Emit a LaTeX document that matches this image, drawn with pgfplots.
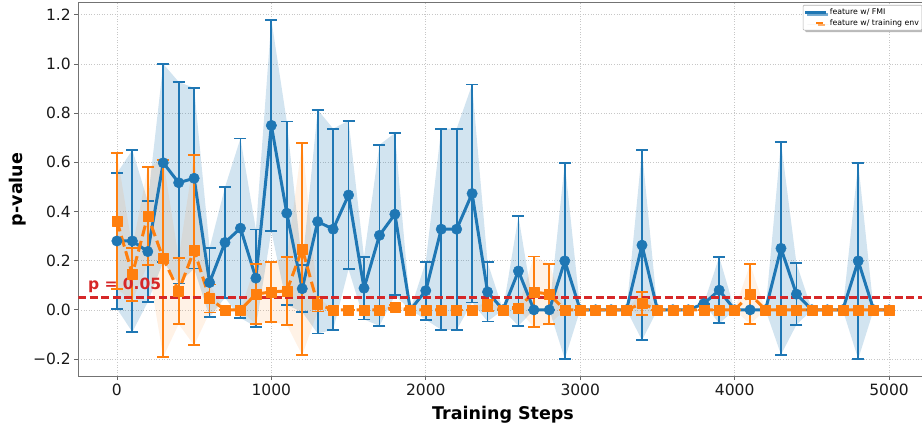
\documentclass[border=0pt]{standalone}
\usepackage{pgfplots}
\pgfplotsset{compat=1.18}
\usepackage{pgfplotstable}
\usepgfplotslibrary{fillbetween}
\usetikzlibrary{shadows}
\usepackage{fontspec}
\setmainfont{DejaVu Sans}

\definecolor{c1}{HTML}{1F77B4}
\definecolor{c2}{HTML}{FF7F0E}
\definecolor{c3}{HTML}{D62728}

% p-values per training step: mean (m) and standard deviation (s)
\pgfplotstableread{
x m s
0 0.280 0.275
100 0.280 0.370
200 0.237 0.205
300 0.598 0.402
400 0.517 0.410
500 0.535 0.367
600 0.111 0.140
700 0.274 0.225
800 0.332 0.365
900 0.129 0.198
1000 0.750 0.430
1100 0.393 0.373
1200 0.086 0.095
1300 0.359 0.455
1400 0.328 0.409
1500 0.467 0.302
1600 0.088 0.127
1700 0.303 0.368
1800 0.389 0.330
1900 0.000 0.000
2000 0.078 0.118
2100 0.328 0.409
2200 0.328 0.409
2300 0.473 0.443
2400 0.073 0.120
2500 0.000 0.000
2600 0.158 0.223
2700 0.000 0.000
2800 0.000 0.000
2900 0.199 0.399
3000 0.000 0.000
3100 0.000 0.000
3200 0.000 0.000
3300 0.000 0.000
3400 0.263 0.387
3500 0.000 0.000
3600 0.000 0.000
3700 0.000 0.000
3800 0.025 0.000
3900 0.080 0.135
4000 0.000 0.000
4100 0.000 0.000
4200 0.000 0.000
4300 0.250 0.432
4400 0.064 0.125
4500 0.000 0.000
4600 0.000 0.000
4700 0.000 0.000
4800 0.199 0.399
4900 0.000 0.000
5000 0.000 0.000
}\fmi

\pgfplotstableread{
x m s
0 0.362 0.277
100 0.145 0.108
200 0.382 0.198
300 0.209 0.400
400 0.077 0.135
500 0.243 0.387
600 0.046 0.057
700 0.000 0.000
800 0.000 0.000
900 0.064 0.123
1000 0.073 0.122
1100 0.077 0.137
1200 0.248 0.432
1300 0.023 0.030
1400 0.000 0.000
1500 0.000 0.000
1600 0.000 0.000
1700 0.000 0.000
1800 0.010 0.010
1900 0.000 0.000
2000 0.000 0.000
2100 0.000 0.000
2200 0.000 0.000
2300 0.000 0.000
2400 0.018 0.022
2500 0.000 0.000
2600 0.007 0.005
2700 0.073 0.144
2800 0.064 0.123
2900 0.000 0.000
3000 0.000 0.000
3100 0.000 0.000
3200 0.000 0.000
3300 0.000 0.000
3400 0.026 0.048
3500 0.000 0.000
3600 0.000 0.000
3700 0.000 0.000
3800 0.000 0.000
3900 0.000 0.000
4000 0.000 0.000
4100 0.064 0.122
4200 0.000 0.000
4300 0.000 0.000
4400 0.000 0.000
4500 0.000 0.000
4600 0.000 0.000
4700 0.000 0.000
4800 0.000 0.000
4900 0.000 0.000
5000 0.000 0.000
}\trainenv

\begin{document}
\begin{tikzpicture}
\begin{axis}[
  name=ax,
  scale only axis, width=849.4pt, height=373.3pt,
  xmin=-250, xmax=5250, ymin=-0.269, ymax=1.249,
  xtick={0,1000,2000,3000,4000,5000},
  xticklabels={0,1000,2000,3000,4000,5000},
  ytick={-0.2,0,0.2,0.4,0.6,0.8,1.0,1.2},
  yticklabels={−0.2,0.0,0.2,0.4,0.6,0.8,1.0,1.2},
  tick align=outside, xtick pos=bottom, ytick pos=left,
  major tick length=4pt,
  tick style={black!60, line width=0.8pt},
  axis line style={black!55, line width=0.9pt},
  grid=major,
  grid style={black!22, line width=0.6pt, dash pattern=on 1pt off 1.6pt},
  ticklabel style={font=\fontsize{15.5}{16}\selectfont, text=black!90},
  xlabel={Training Steps}, ylabel={p-value},
  every axis x label/.style={at={(axis description cs:0.5,-0.1165)}, anchor=base,
    font=\bfseries\fontsize{17.5}{18}\selectfont},
  every axis y label/.style={at={(axis description cs:-0.0716,0.5)}, anchor=center,
    rotate=90, font=\bfseries\fontsize{17.5}{18}\selectfont},
  legend cell align=left,
  legend image code/.code={\draw[#1] (0pt,0pt) -- (21pt,0pt);},
  legend style={at={(0.853,0.994)}, anchor=north west,
    font=\fontsize{7.8}{8.5}\selectfont,
    draw=black!30, line width=0.6pt, fill=white, rounded corners=1pt,
    inner xsep=1pt, inner ysep=1.5pt, row sep=-1pt,
    drop shadow={shadow xshift=2pt, shadow yshift=-2pt, fill=black!45, opacity=0.6}},
  every axis plot/.append style={line join=round},
]

% legend entries: line samples only
\addlegendimage{c1, line width=2.7pt, mark=none}
\addlegendentry{feature w/ FMI}
\addlegendimage{c2, line width=2.7pt, mark=none, dash pattern=on 7pt off 14pt, dash phase=10pt}
\addlegendentry{feature w/ training env}

% mean +/- std band, FMI
\addplot[name path=fu, draw=none, forget plot] table[x=x, y expr=\thisrow{m}+\thisrow{s}] {\fmi};
\addplot[name path=fl, draw=none, forget plot] table[x=x, y expr=\thisrow{m}-\thisrow{s}] {\fmi};
\addplot[fill=c1, fill opacity=0.2, draw=none, forget plot] fill between[of=fu and fl];

% FMI mean with error bars
\addplot[forget plot, c1, line width=3pt, mark=*, mark size=5.2pt,
  mark options={solid, fill=c1, draw=c1, line width=0.5pt},
  error bars/.cd, y dir=both, y explicit,
  error bar style={c1, line width=1.8pt, solid},
  error mark options={c1, rotate=90, mark size=6pt, line width=1.8pt, solid}]
  table[x=x, y=m, y error=s] {\fmi};

% mean +/- std band, training env
\addplot[name path=tu, draw=none, forget plot] table[x=x, y expr=\thisrow{m}+\thisrow{s}] {\trainenv};
\addplot[name path=tl, draw=none, forget plot] table[x=x, y expr=\thisrow{m}-\thisrow{s}] {\trainenv};
\addplot[fill=c2, fill opacity=0.1, draw=none, forget plot] fill between[of=tu and tl];

% training env mean with error bars
\addplot[forget plot, c2, line width=3pt, dash pattern=on 11pt off 4.8pt, mark=square*, mark size=5pt,
  mark options={solid, fill=c2, draw=c2, line width=0.5pt},
  error bars/.cd, y dir=both, y explicit,
  error bar style={c2, line width=1.8pt, solid},
  error mark options={c2, rotate=90, mark size=6pt, line width=1.8pt, solid}]
  table[x=x, y=m, y error=s] {\trainenv};

% significance threshold
\addplot[forget plot, c3, line width=2.2pt, dash pattern=on 8pt off 3.5pt]
  coordinates {(-250,0.05) (5250,0.05)};
\node[anchor=base west, text=c3, font=\bfseries\fontsize{15.5}{16}\selectfont, inner sep=0pt]
  at (axis cs:-188,0.083) {p = 0.05};
\end{axis}
\pgfresetboundingbox
\path[use as bounding box] ([shift={(-78.3pt,-53pt)}]ax.south west)
  rectangle ([shift={(-5.7pt,2.7pt)}]ax.north east);
\end{tikzpicture}
\end{document}
